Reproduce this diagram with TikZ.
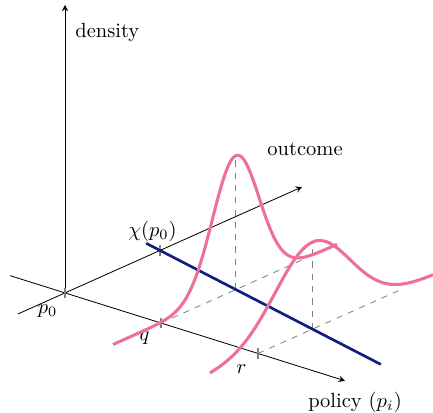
\documentclass[tikz,border=0pt]{standalone}
\usepackage{tikz}

\definecolor{densepink}{RGB}{238,112,150}
\definecolor{chiblue}{RGB}{16,30,128}

\begin{document}
\begin{tikzpicture}[
  x={(24.375pt,-7.65pt)}, y={(24.375pt,10.9pt)}, z={(0pt,24.375pt)},
  axis/.style={->, >=stealth},
  guide/.style={dashed, gray, thin},
  tickmark/.style={gray, thick},
  densecurve/.style={densepink, line width=1.5pt, smooth},
  chiline/.style={chiblue, line width=1.3pt},
]
  \useasboundingbox (-31.7pt,-58.5pt) rectangle (179.4pt,142.8pt);

  % Axes
  \coordinate (O) at (0,0,0);
  \coordinate (polEnd) at (5.6,0,0);
  \coordinate (polStart) at (-1.1,0,0);
  \coordinate (outEnd) at (0,4.74,0);
  \coordinate (outStart) at (0,-0.94,0);
  \coordinate (denEnd) at (0,0,5.76);
  \draw[axis] (polStart) -- (polEnd);
  \draw[axis] (outStart) -- (outEnd);
  \draw[axis] (O) -- (denEnd);

  \node (denlab) at (0,0,5.2) [right=1.5pt] {density};
  \node (outlab) at (0,4.8,0.72) {outcome};
  \node (pollab) at (5.8,0,-0.36) {policy $(p_i)$};
  \node (p0lab) at (0,-0.35,-0.2) {$p_0$};

  % chi(p0) on the outcome axis
  \coordinate (chi0) at (0,1.9,0);
  \node (chilab) at (0,1.75,0.44) {$\chi(p_0)$};
  \draw[tickmark] (chi0) ++(0pt,2.5pt) -- ++(0pt,-5pt);
  \draw[tickmark] (O) ++(0pt,2.5pt) -- ++(0pt,-5pt);

  % Guides at q and r
  \foreach \p/\name/\len/\peak in {1.92/q/2.88/2.68, 3.86/r/2.84/1.74} {
    \coordinate (\name) at (\p,0,0);
    \coordinate (\name top) at (\p,\len,0);
    \coordinate (\name chi) at (\p,{1.9-0.21*\p},0);
    \coordinate (\name peak) at (\p,{1.9-0.21*\p},\peak);
    \draw[guide] (\name) -- (\name top);
    \draw[guide] (\name chi) -- (\name peak);
    \draw[tickmark] (\name) ++(0pt,2.5pt) -- ++(0pt,-5pt);
    \node (\name lab) at (\p,-0.33,-0.16) {$\name$};
  }

  % chi line
  \coordinate (chiA) at (-0.35,{1.9+0.21*0.35},0);
  \coordinate (chiB) at (5.59,{1.9-0.21*5.59},0);
  \draw[chiline] (chiA) -- (chiB);

  % Densities
  \draw[densecurve] plot[domain=-0.96:3.52, samples=90]
    (1.92, \x, {2.68*exp(-(\x-1.497)*(\x-1.497)/(2*0.466*0.466))});
  \draw[densecurve] plot[domain=-0.96:3.5, samples=90]
    (3.86, \x, {1.74*exp(-(\x-1.089)*(\x-1.089)/(2*0.75*0.75))});
\end{tikzpicture}
\end{document}
